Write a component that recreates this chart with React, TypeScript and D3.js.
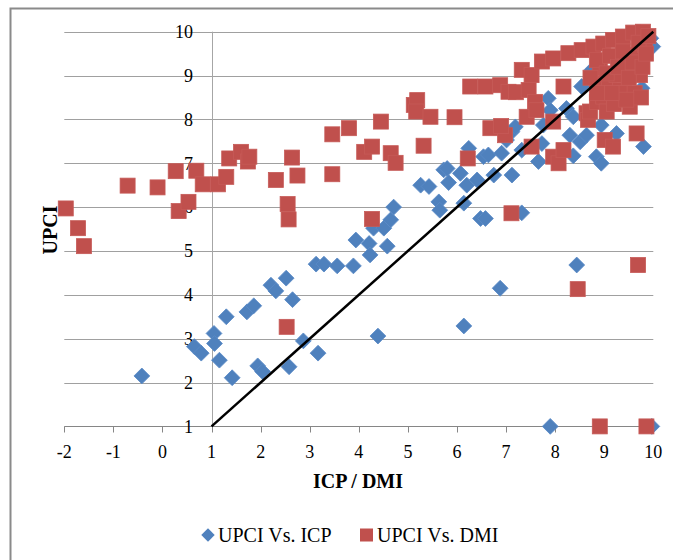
import React, { useEffect, useRef } from 'react';
import * as d3 from 'd3';

// UPCI vs. ICP  [ICP, UPCI]
const icpPoints: [number, number][] = [
  [-0.42, 2.15], [0.65, 2.82], [0.79, 2.67], [1.05, 3.12], [1.06, 2.89], [1.16, 2.51],
  [1.3, 3.5], [1.42, 2.11], [1.72, 3.61], [1.86, 3.75], [1.94, 2.38], [2.04, 2.25],
  [2.21, 4.22], [2.31, 4.09], [2.52, 4.38], [2.58, 2.36], [2.65, 3.89], [2.87, 2.95],
  [3.17, 2.67], [3.13, 4.7], [3.29, 4.7], [3.56, 4.66], [3.89, 4.66], [3.94, 5.25],
  [4.21, 5.17], [4.23, 4.91], [4.3, 5.52], [4.39, 3.06], [4.51, 5.52], [4.58, 5.11],
  [4.65, 5.71], [4.71, 6.0], [5.26, 6.5], [5.43, 6.47], [5.63, 6.12], [5.65, 5.93],
  [5.73, 6.85], [5.8, 6.88], [5.83, 6.56], [6.07, 6.77], [6.14, 6.09], [6.14, 3.29],
  [6.2, 6.5], [6.24, 7.34], [6.41, 6.62], [6.48, 5.74], [6.58, 5.74], [6.54, 7.15],
  [6.64, 7.19], [6.75, 6.73], [6.88, 4.15], [6.91, 7.23], [7.01, 7.53], [7.12, 6.73],
  [7.12, 7.72], [7.19, 7.83], [7.32, 5.87], [7.32, 7.3], [7.66, 7.04], [7.73, 7.45],
  [7.76, 7.87], [7.86, 8.48], [7.9, 8.21], [7.9, 1.0], [8.23, 8.25], [8.3, 7.64],
  [8.37, 8.06], [8.37, 7.17], [8.44, 4.68], [8.51, 7.49], [8.54, 8.75], [8.64, 7.64],
  [8.75, 9.13], [8.84, 7.15], [8.94, 7.0], [8.94, 7.87], [9.25, 7.68], [9.72, 9.28],
  [9.77, 8.71], [9.8, 7.38], [9.99, 9.66], [9.97, 1.0], [9.95, 9.85],
];

// UPCI vs. DMI  [DMI, UPCI]
const dmiPoints: [number, number][] = [
  [-1.97, 5.97], [-1.72, 5.52], [-1.6, 5.11], [-0.71, 6.49], [-0.1, 6.45], [0.27, 6.82],
  [0.33, 5.91], [0.53, 6.12], [0.69, 6.83], [0.82, 6.52], [1.13, 6.52], [1.3, 6.69],
  [1.36, 7.11], [1.6, 7.26], [1.74, 7.04], [1.77, 7.15], [2.31, 6.62], [2.53, 3.27],
  [2.55, 6.07], [2.57, 5.72], [2.64, 7.13], [2.75, 6.72], [3.46, 7.66], [3.46, 6.75],
  [3.8, 7.8], [4.11, 7.26], [4.27, 7.38], [4.27, 5.73], [4.45, 7.95], [4.65, 7.23],
  [4.75, 7.01], [5.12, 8.33], [5.19, 8.44], [5.17, 8.18], [5.32, 7.4], [5.46, 8.06],
  [5.95, 8.05], [6.22, 7.11], [6.27, 8.75], [6.58, 8.75], [6.68, 7.8], [6.88, 8.78],
  [6.98, 7.64], [6.9, 7.85], [7.05, 8.63], [7.2, 8.62], [7.11, 5.86], [7.32, 9.13],
  [7.42, 8.06], [7.46, 8.67], [7.52, 9.01], [7.52, 7.38], [7.59, 8.4], [7.62, 8.21],
  [7.73, 9.32], [7.96, 9.39], [7.96, 7.95], [7.96, 7.15], [8.07, 7.0], [8.17, 7.3],
  [8.17, 8.75], [8.27, 9.51], [8.46, 4.13], [8.54, 9.58], [8.64, 8.14], [8.67, 7.99],
  [8.71, 8.18], [8.78, 9.66], [8.85, 8.4], [8.91, 9.17], [8.91, 1.0], [8.94, 8.82],
  [8.98, 9.73], [8.98, 8.52], [9.01, 7.53], [9.05, 8.18], [9.1, 8.9], [9.18, 9.81],
  [9.18, 7.38], [9.2, 8.35], [9.25, 9.01], [9.32, 8.67], [9.38, 9.89], [9.4, 8.6],
  [9.45, 9.24], [9.52, 8.29], [9.55, 9.1], [9.59, 9.98], [9.66, 9.47], [9.66, 7.68],
  [9.69, 4.68], [9.73, 9.01], [9.79, 10.0], [9.83, 9.7], [9.86, 1.0],
  [8.72, 8.95], [8.85, 9.35], [9.05, 9.05], [9.12, 9.45], [9.28, 9.2], [9.38, 9.55],
  [9.5, 8.95], [9.58, 9.3], [9.62, 8.6], [9.7, 9.75], [9.78, 9.2], [9.85, 9.5],
  [9.9, 9.9], [9.75, 8.5], [9.45, 8.45], [9.15, 8.6], [8.85, 8.6],
];

const xTicks = [-2, -1, 0, 1, 2, 3, 4, 5, 6, 7, 8, 9, 10];
const yTicks = [1, 2, 3, 4, 5, 6, 7, 8, 9, 10];
const refLine: [number, number][] = [[1, 1], [10, 10]];
const legendItems = ['UPCI Vs. ICP', 'UPCI Vs. DMI'];

const BLUE = '#4F81BD';
const RED = '#C0504D';
const FONT = '"Liberation Serif", "Times New Roman", serif';

export default function App() {
  const svgRef = useRef<SVGSVGElement>(null);

  useEffect(() => {
    const W = 673, H = 560;
    const svg = d3.select(svgRef.current);
    svg.selectAll('*').remove();
    svg.attr('width', W).attr('height', H);

    svg.append('rect').attr('width', W).attr('height', H).attr('fill', '#fff');

    // outer chart border
    svg.append('rect')
      .attr('x', 10.5).attr('y', 8.5)
      .attr('width', 720).attr('height', 600)
      .attr('fill', 'none')
      .attr('stroke', '#8a8a8a')
      .attr('stroke-width', 2);

    const x = d3.scaleLinear().domain([-2, 10]).range([64.3, 653.3]);
    const y = d3.scaleLinear().domain([1, 10]).range([426.4, 31.7]);

    // horizontal gridlines
    svg.append('g').selectAll('line')
      .data(yTicks.filter(t => t > 1))
      .enter().append('line')
      .attr('x1', x(-2)).attr('x2', x(10))
      .attr('y1', d => Math.round(y(d)) + 0.5).attr('y2', d => Math.round(y(d)) + 0.5)
      .attr('stroke', '#a0a0a0');

    // y axis at x = 1
    svg.append('line')
      .attr('x1', Math.round(x(1)) + 0.5).attr('x2', Math.round(x(1)) + 0.5)
      .attr('y1', y(1)).attr('y2', y(10))
      .attr('stroke', '#a6a6a6');

    // x axis at y = 1
    const xAxisY = Math.round(y(1)) + 0.5;
    svg.append('line')
      .attr('x1', x(-2)).attr('x2', x(10))
      .attr('y1', xAxisY).attr('y2', xAxisY)
      .attr('stroke', '#868686');

    svg.append('g').selectAll('line')
      .data(xTicks)
      .enter().append('line')
      .attr('x1', d => Math.round(x(d)) + 0.5).attr('x2', d => Math.round(x(d)) + 0.5)
      .attr('y1', xAxisY).attr('y2', xAxisY + 6)
      .attr('stroke', '#868686');

    // tick labels
    svg.append('g').selectAll('text')
      .data(xTicks)
      .enter().append('text')
      .attr('x', d => x(d))
      .attr('y', 458)
      .attr('text-anchor', 'middle')
      .style('font-family', FONT)
      .style('font-size', '18px')
      .style('fill', '#000')
      .text(d => d);

    svg.append('g').selectAll('text')
      .data(yTicks)
      .enter().append('text')
      .attr('x', 193)
      .attr('y', d => y(d))
      .attr('dy', '0.35em')
      .attr('text-anchor', 'end')
      .style('font-family', FONT)
      .style('font-size', '18px')
      .style('fill', '#000')
      .text(d => d);

    // axis titles
    svg.append('text')
      .attr('x', 358).attr('y', 488)
      .attr('text-anchor', 'middle')
      .style('font-family', FONT)
      .style('font-size', '20px')
      .style('font-weight', 'bold')
      .text('ICP / DMI');

    svg.append('text')
      .attr('transform', 'translate(57,230) rotate(-90)')
      .attr('text-anchor', 'middle')
      .style('font-family', FONT)
      .style('font-size', '20px')
      .style('font-weight', 'bold')
      .text('UPCI');

    const diamond = d3.symbol().type(d3.symbolSquare).size(125);

    // ICP series (diamonds)
    svg.append('g').selectAll('path')
      .data(icpPoints)
      .enter().append('path')
      .attr('d', diamond)
      .attr('transform', d => `translate(${x(d[0])},${y(d[1])}) rotate(45)`)
      .attr('fill', BLUE)
      .attr('stroke', '#5a8ac6')
      .attr('stroke-width', 0.8);

    // DMI series (squares)
    const sq = 15;
    svg.append('g').selectAll('rect')
      .data(dmiPoints)
      .enter().append('rect')
      .attr('x', d => x(d[0]) - sq / 2)
      .attr('y', d => y(d[1]) - sq / 2)
      .attr('width', sq).attr('height', sq)
      .attr('fill', RED)
      .attr('stroke', '#c65a57')
      .attr('stroke-width', 0.8);

    // y = x reference line
    svg.append('path')
      .datum(refLine)
      .attr('d', d3.line<[number, number]>().x(d => x(d[0])).y(d => y(d[1])))
      .attr('stroke', '#000')
      .attr('stroke-width', 2.5)
      .attr('fill', 'none');

    // legend
    const lg = svg.append('g');
    lg.append('path')
      .attr('d', d3.symbol().type(d3.symbolSquare).size(90))
      .attr('transform', 'translate(208,535) rotate(45)')
      .attr('fill', BLUE);
    lg.append('text')
      .attr('x', 218).attr('y', 542)
      .style('font-family', FONT)
      .style('font-size', '20px')
      .text(legendItems[0]);
    lg.append('rect')
      .attr('x', 360).attr('y', 528.5)
      .attr('width', 13).attr('height', 13)
      .attr('fill', RED);
    lg.append('text')
      .attr('x', 377).attr('y', 542)
      .style('font-family', FONT)
      .style('font-size', '20px')
      .text(legendItems[1]);
  }, []);

  return (
    <div style={{ position: 'absolute', left: 0, top: 0 }}>
      <svg ref={svgRef} style={{ display: 'block' }} />
    </div>
  );
}
